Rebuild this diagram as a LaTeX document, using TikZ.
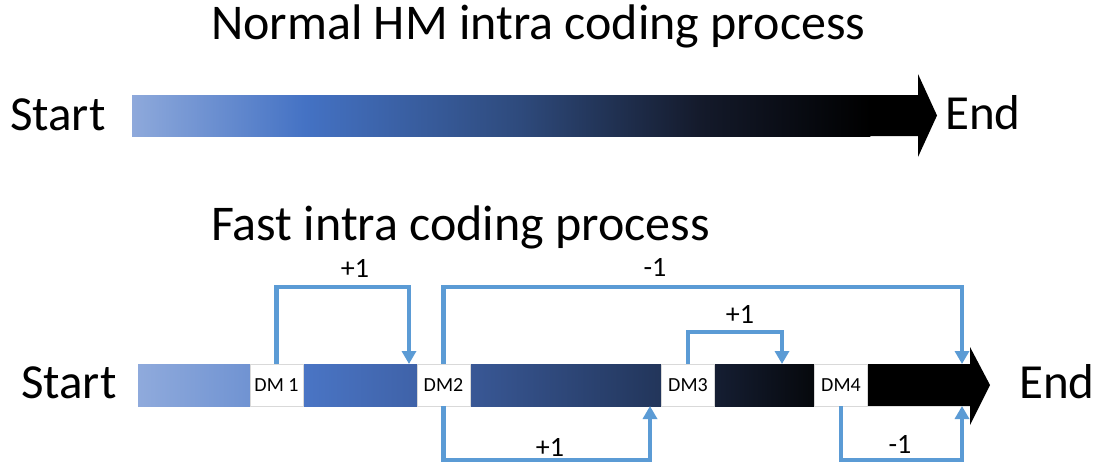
\documentclass[tikz,border=0pt]{standalone}
\usepackage{fontspec}
\setmainfont{Carlito}
\usetikzlibrary{arrows.meta}

\definecolor{linkblue}{HTML}{5B9BD5}
\definecolor{boxedge}{HTML}{D9D9D9}
\definecolor{a1}{HTML}{8EA9DB}\definecolor{a2}{HTML}{4472C4}
\definecolor{a3}{HTML}{2E4A7C}\definecolor{a4}{HTML}{141A2B}
\definecolor{b1}{HTML}{8FAADC}\definecolor{b2}{HTML}{7093D2}
\definecolor{b3}{HTML}{4A75C5}\definecolor{b4}{HTML}{3F62A8}
\definecolor{b5}{HTML}{395896}\definecolor{b6}{HTML}{22355A}
\definecolor{b7}{HTML}{151E33}\definecolor{b8}{HTML}{06080C}

\tikzset{
  big/.style={font=\fontsize{49}{56}\selectfont, inner sep=0pt, anchor=base west},
  title/.style={font=\fontsize{50}{58}\selectfont, inner sep=0pt, anchor=base west},
  dmbox/.style={draw=boxedge, line width=0.6pt, fill=white, minimum width=53pt,
                minimum height=42pt, inner sep=0pt, font=\fontsize{20}{22}\selectfont},
  conn/.style={draw=linkblue, line width=4.5pt},
  connarrow/.style={conn, -{Triangle[width=14pt,length=13pt]}},
  lbl/.style={font=\fontsize{28}{32}\selectfont, inner sep=0pt, anchor=base},
}

\begin{document}
\begin{tikzpicture}[x=1pt, y=-1pt]
\useasboundingbox[fill=white] (0,0) rectangle (1095,466);

% ---------- normal process ----------
\node[title] (t1) at (211,39) {Normal HM intra coding process};

\shade[left color=a1, right color=a2] (132,95) rectangle (305.3,136);
\shade[left color=a2, right color=a3] (305,95) rectangle (520.3,136);
\shade[left color=a3, right color=a4] (520,95) rectangle (700.3,136);
\shade[left color=a4, right color=black] (700,95) rectangle (870.3,136);
\fill[black] (870,95) -- (918,95) -- (918,74) -- (937,115.5) -- (918,157)
  -- (918,136) -- (870,136) -- cycle;

\node[big] (s1) at (10,130) {Start};
\node[big] (e1) at (945,129) {End};

% ---------- fast process ----------
\node[title] (t2) at (211,240) {Fast intra coding process};

\shade[left color=b1, right color=b2] (138,364) rectangle (250.3,406);
\shade[left color=b3, right color=b4] (303,364) rectangle (417.3,406);
\shade[left color=b5, right color=b6] (470,364) rectangle (662.3,406);
\shade[left color=b7, right color=b8] (714,364) rectangle (814.3,406);
\fill[black] (867,364) -- (970,364) -- (970,347) -- (990,385) -- (970,425)
  -- (970,406) -- (867,406) -- cycle;

\node[dmbox] (dm1) at (276.5,385) {DM 1};
\node[dmbox] (dm2) at (443.5,385) {DM2};
\node[dmbox] (dm3) at (688,385)   {DM3};
\node[dmbox] (dm4) at (841,385)   {DM4};

\node[big] (s2) at (21,398) {Start};
\node[big] (e2) at (1019,398) {End};

% arrow targets on the bar
\coordinate (g1) at (409,364);
\coordinate (g2) at (962,364);
\coordinate (g3) at (782,364);
\coordinate (g4) at (650,406);
\coordinate (g5) at (962,406);

% decision links
\draw[connarrow] (dm1.north) -- (dm1.north |- 0,287) -| (g1);
\draw[connarrow] (dm2.north) -- (dm2.north |- 0,287) -| (g2);
\draw[connarrow] (dm3.north) -- (dm3.north |- 0,332) -| (g3);
\draw[connarrow] (dm2.south) -- (dm2.south |- 0,460) -| (g4);
\draw[connarrow] (dm4.south) -- (dm4.south |- 0,460) -| (g5);

\node[lbl] (l1) at (355,277) {+1};
\node[lbl] (l2) at (655,276) {-1};
\node[lbl] (l3) at (740,323) {+1};
\node[lbl] (l4) at (550,456) {+1};
\node[lbl] (l5) at (900,453) {-1};
\end{tikzpicture}
\end{document}
